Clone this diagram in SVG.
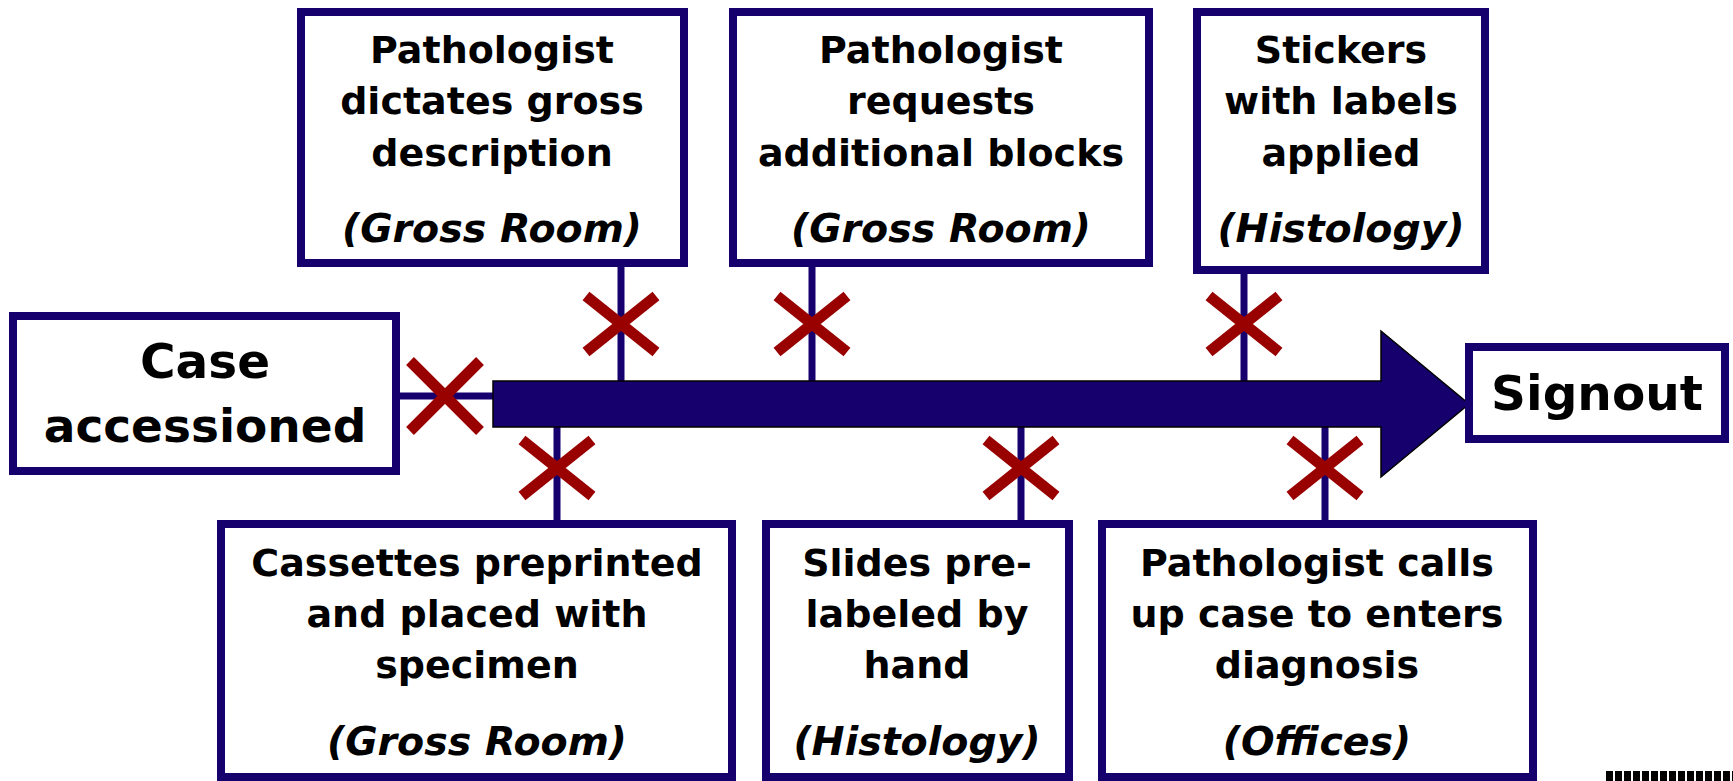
<svg xmlns="http://www.w3.org/2000/svg" width="1733" height="781" viewBox="0 0 1733 781">
  <style>
    .box { fill: #ffffff; stroke: #15006e; stroke-width: 8; }
    .conn { stroke: #15006e; stroke-width: 7; fill: none; }
    .x { stroke: #990000; stroke-width: 11; fill: none; }
    .t { font-family: "DejaVu Sans", Verdana, sans-serif; font-weight: bold; font-size: 38px; fill: #000; text-anchor: middle; }
    .i { font-family: "DejaVu Sans", Verdana, sans-serif; font-weight: bold; font-style: italic; font-size: 39.5px; fill: #000; text-anchor: middle; }
    .big { font-family: "DejaVu Sans", Verdana, sans-serif; font-weight: bold; font-size: 47px; fill: #000; text-anchor: middle; }
  </style>
  <rect width="1733" height="781" fill="#ffffff"/>

  <g id="connectors">
    <line class="conn" x1="400" y1="396" x2="493" y2="396"/>
    <line class="conn" x1="621" y1="267" x2="621" y2="381"/>
    <line class="conn" x1="812" y1="267" x2="812" y2="381"/>
    <line class="conn" x1="1244" y1="274" x2="1244" y2="381"/>
    <line class="conn" x1="557" y1="427" x2="557" y2="520"/>
    <line class="conn" x1="1021" y1="427" x2="1021" y2="520"/>
    <line class="conn" x1="1325" y1="427" x2="1325" y2="520"/>
    <polygon id="main-arrow" points="493,381 1381,381 1381,331 1469,404 1381,477 1381,427 493,427" fill="#15006e" stroke="#000000" stroke-width="1.5"/>
  </g>

  <g id="marks">
    <path class="x" d="M410,361 L480,431 M480,361 L410,431"/>
    <path class="x" d="M586,296 L656,352 M656,296 L586,352"/>
    <path class="x" d="M777,296 L847,352 M847,296 L777,352"/>
    <path class="x" d="M1209,296 L1279,352 M1279,296 L1209,352"/>
    <path class="x" d="M522,440 L592,496 M592,440 L522,496"/>
    <path class="x" d="M986,440 L1056,496 M1056,440 L986,496"/>
    <path class="x" d="M1290,440 L1360,496 M1360,440 L1290,496"/>
  </g>

  <g id="case-accessioned">
    <rect class="box" x="13" y="316" width="383" height="155"/>
    <text class="big" x="205" y="378" style="font-size:48.5px">Case</text>
    <text class="big" x="205" y="442">accessioned</text>
  </g>

  <g id="signout">
    <rect class="box" x="1469" y="347" width="256" height="92"/>
    <text class="big" x="1597" y="410" style="font-size:48.5px">Signout</text>
  </g>

  <g id="dictates">
    <rect class="box" x="301" y="12" width="383" height="251"/>
    <text class="t" x="492" y="63">Pathologist</text>
    <text class="t" x="492" y="114">dictates gross</text>
    <text class="t" x="492" y="166">description</text>
    <text class="i" x="492" y="242">(Gross Room)</text>
  </g>

  <g id="requests">
    <rect class="box" x="733" y="12" width="416" height="251"/>
    <text class="t" x="941" y="63">Pathologist</text>
    <text class="t" x="941" y="114">requests</text>
    <text class="t" x="941" y="166">additional blocks</text>
    <text class="i" x="941" y="242">(Gross Room)</text>
  </g>

  <g id="stickers">
    <rect class="box" x="1197" y="12" width="288" height="258"/>
    <text class="t" x="1341" y="63">Stickers</text>
    <text class="t" x="1341" y="114">with labels</text>
    <text class="t" x="1341" y="166">applied</text>
    <text class="i" x="1341" y="242">(Histology)</text>
  </g>

  <g id="cassettes">
    <rect class="box" x="221" y="524" width="511" height="253"/>
    <text class="t" x="477" y="576">Cassettes preprinted</text>
    <text class="t" x="477" y="627">and placed with</text>
    <text class="t" x="477" y="678">specimen</text>
    <text class="i" x="477" y="755">(Gross Room)</text>
  </g>

  <g id="slides">
    <rect class="box" x="766" y="524" width="303" height="253"/>
    <text class="t" x="917" y="576">Slides pre-</text>
    <text class="t" x="917" y="627">labeled by</text>
    <text class="t" x="917" y="678">hand</text>
    <text class="i" x="917" y="755">(Histology)</text>
  </g>

  <g id="calls-up">
    <rect class="box" x="1102" y="524" width="431" height="253"/>
    <text class="t" x="1317" y="576">Pathologist calls</text>
    <text class="t" x="1317" y="627">up case to enters</text>
    <text class="t" x="1317" y="678">diagnosis</text>
    <text class="i" x="1317" y="755">(Offices)</text>
  </g>

  <g id="corner-fragment">
    <line x1="1606" y1="776" x2="1733" y2="776" stroke="#000000" stroke-width="10" stroke-dasharray="7 2"/>
  </g>
</svg>
